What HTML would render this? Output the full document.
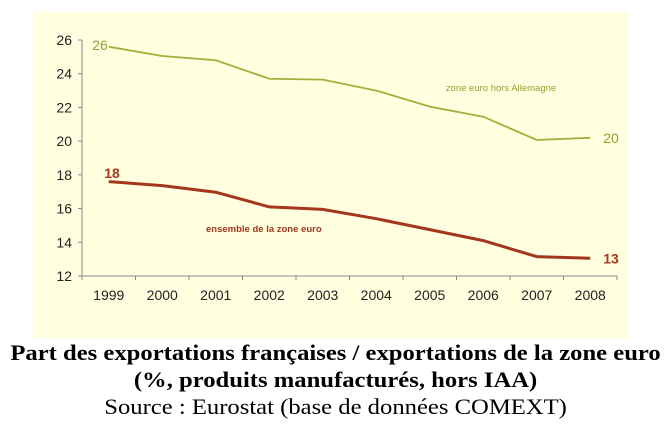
<!DOCTYPE html>
<html><head><meta charset="utf-8"><style>
body{margin:0;background:#fff;width:671px;height:445px;overflow:hidden;font-family:"Liberation Serif",serif}
.cap{position:absolute;left:0;width:671px;text-align:center;font-size:22px;color:#000;transform:scaleX(1.12);transform-origin:335px 0;white-space:nowrap}
</style></head><body>
<svg width="671" height="340" style="position:absolute;left:0;top:0">
<rect x="33" y="12" width="596" height="326" fill="#ffffe0"/>
<g id="axes"></g><g id="marks"></g>
</svg>
<div class="cap" style="top:340px;font-weight:bold">Part des exportations françaises / exportations de la zone euro</div>
<div class="cap" style="top:367px;font-weight:bold">(%, produits manufacturés, hors IAA)</div>
<div class="cap" style="top:394px">Source : Eurostat (base de données COMEXT)</div>
<script>
const years=["1999","2000","2001","2002","2003","2004","2005","2006","2007","2008"];
const horsAllemagne=[25.6,25.05,24.8,23.7,23.65,23.0,22.05,21.45,20.07,20.2];
const ensemble=[17.6,17.36,16.97,16.1,15.95,15.4,14.75,14.1,13.15,13.05];
const yTicks=[12,14,16,18,20,22,24,26];
const NS="http://www.w3.org/2000/svg";
const x0=82,x1=617,yTop=40,yBot=276,yMin=12,yMax=26;
const step=(x1-x0)/years.length;
const xs=i=>x0+step*(i+0.5);
const ys=v=>yBot-(v-yMin)/(yMax-yMin)*(yBot-yTop);
function el(t,a,p){const e=document.createElementNS(NS,t);for(const k in a)e.setAttribute(k,a[k]);p.appendChild(e);return e;}
const ax=document.getElementById('axes'),mk=document.getElementById('marks');
let a=el('line',{x1:x0,y1:yTop,x2:x0,y2:yBot,stroke:'#888'},ax);


a=el('line',{x1:x0,y1:yBot,x2:x1,y2:yBot,stroke:'#888'},ax);


yTicks.forEach(v=>{
 el('line',{x1:x0-4,y1:ys(v),x2:x0,y2:ys(v),stroke:'#888'},ax);
 const t=el('text',{x:x0-10,y:ys(v)+5,'text-anchor':'end','font-family':'Liberation Sans, sans-serif','font-size':14,fill:'#222'},ax);
 t.textContent=v;
 
 
});
for(let i=0;i<=years.length;i++)el('line',{x1:x0+step*i,y1:yBot,x2:x0+step*i,y2:yBot+4,stroke:'#888'},ax);
years.forEach((y,i)=>{
 const t=el('text',{x:xs(i),y:yBot+24,'text-anchor':'middle','font-family':'Liberation Sans, sans-serif','font-size':14,fill:'#222'},ax);
 t.textContent=y;
 
 
});
function series(vals,color,w,name){
 const p=el('polyline',{points:vals.map((v,i)=>xs(i)+','+ys(v)).join(' '),fill:'none',stroke:color,'stroke-width':w},mk);
 
 
}
series(horsAllemagne,'#a6ad3a',1.8,'line-zone-euro-hors-allemagne');
series(ensemble,'#a3361c',3,'line-ensemble-zone-euro');
function lab(x,y,s,c,fs,w,anchor,name){
 const t=el('text',{x:x,y:y,fill:c,'font-size':fs,'font-weight':w,'text-anchor':anchor,'font-family':'Liberation Sans, sans-serif'},mk);
 t.textContent=s;
 
 
}
lab(100,50,'26','#9a9e34',14,'normal','middle','label-start-green');
lab(xs(9)+13,ys(horsAllemagne[9])+5,'20','#9a9e34',14,'normal','start','label-end-green');
lab(112,178,'18','#a3361c',14,'bold','middle','label-start-red');
lab(xs(9)+13,ys(ensemble[9])+5,'13','#a3361c',14,'bold','start','label-end-red');
lab(501,91,'zone euro hors Allemagne','#9a9e34',9.5,'normal','middle','legend-green');
lab(206,232,'ensemble de la zone euro','#a3361c',9.5,'bold','start','legend-red');
</script>
</body></html>
